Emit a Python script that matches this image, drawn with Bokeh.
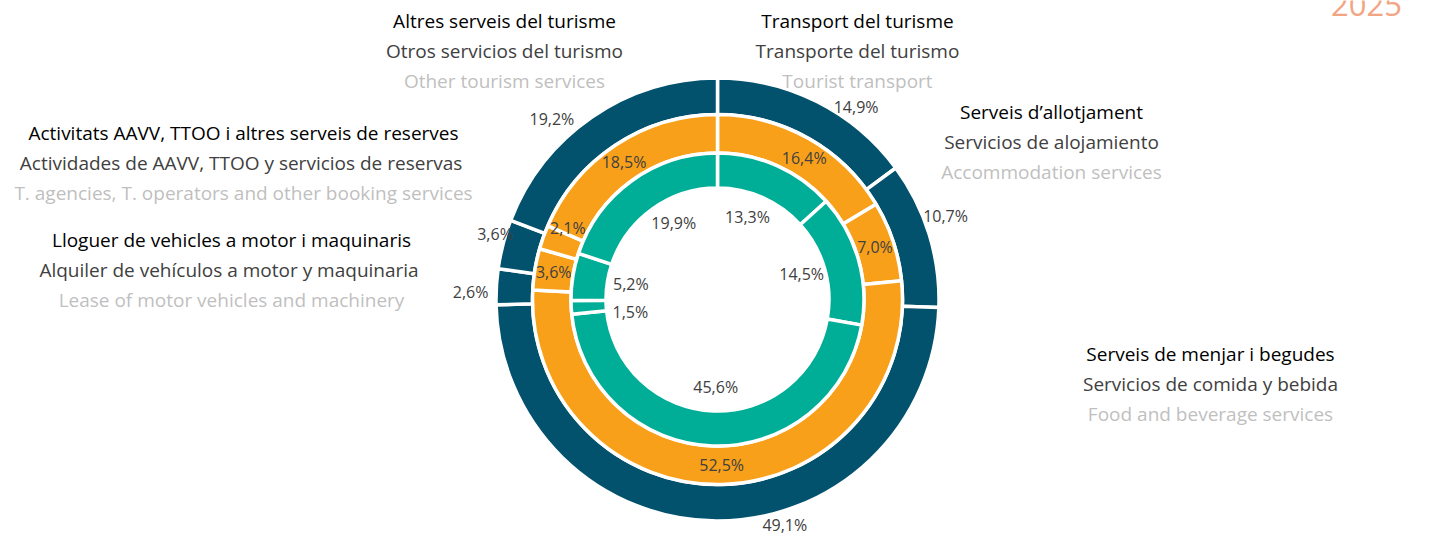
import numpy as np
from bokeh.plotting import figure
from bokeh.models import Range1d, ColumnDataSource
from bokeh.core.properties import value
from bokeh.embed import file_html
from bokeh.resources import INLINE

# ---------------- data ----------------
categories = [
    "Transport del turisme",
    "Serveis d\u2019allotjament",
    "Serveis de menjar i begudes",
    "Lloguer de vehicles a motor i maquinaris",
    "Activitats AAVV, TTOO i altres serveis de reserves",
    "Altres serveis del turisme",
]
categories_es = [
    "Transporte del turismo",
    "Servicios de alojamiento",
    "Servicios de comida y bebida",
    "Alquiler de veh\u00edculos a motor y  maquinaria",
    "Actividades de AAVV, TTOO  y servicios de reservas",
    "Otros servicios del turismo",
]
categories_en = [
    "Tourist transport",
    "Accommodation services",
    "Food and beverage services",
    "Lease of motor vehicles and machinery",
    "T. agencies, T. operators and other booking services",
    "Other tourism services",
]
outer_values = [14.9, 10.7, 49.1, 2.6, 3.6, 19.2]
middle_values = [16.4, 7.0, 52.5, 3.6, 2.1, 18.5]
inner_values = [13.3, 14.5, 45.6, 1.5, 5.2, 19.9]
year_label = "2025"

# ---------------- style / layout ----------------
W, H = 1430, 535
CX, CY = 717, 299          # donut centre in picture pixels
ring_colors = ["#02526E", "#F9A01B", "#00AE97"]
rings = [  # (values, inner r, outer r, label radii, angular nudges in degrees)
    (outer_values, 185.0, 221.5, [237, 243, 235, 247, 232, 245], [-9, 3, 17, 1.5, -2, 8]),
    (middle_values, 146.5, 185.0, [166] * 6, [-2, 0, 0, 0, -6, 1]),
    (inner_values, 111.5, 146.5, [88] * 6, [4, 1, 1, 5, -1, -6]),
]

# category label blocks: centre x, first line y (picture pixels)
block_pos = [(857, 20), (1051, 111), (1210, 353), (231, 239), (243, 132), (504, 20)]
line_gap = 30

FONT = "Open Sans"

p = figure(width=W, height=H, output_backend="svg", toolbar_location=None,
           x_range=Range1d(-CX, W - CX), y_range=Range1d(CY - H, CY),
           min_border=0, match_aspect=False)
p.axis.visible = False
p.grid.visible = False
p.outline_line_color = None
p.background_fill_color = "white"
p.border_fill_color = "white"


def fmt(v):
    return f"{v:.1f}".replace(".", ",") + "%"


for ri, (vals, r_in, r_out, r_lab, nudge) in enumerate(rings):
    vals = np.array(vals, dtype=float)
    frac = vals / vals.sum()
    cum = np.concatenate([[0], np.cumsum(frac)])
    start = np.deg2rad(90 - cum[:-1] * 360)
    end = np.deg2rad(90 - cum[1:] * 360)
    src = ColumnDataSource(dict(start=start, end=end))
    p.annular_wedge(x=0, y=0, inner_radius=r_in, outer_radius=r_out,
                    start_angle="start", end_angle="end", direction="clock",
                    source=src, fill_color=ring_colors[ri],
                    line_color="white", line_width=3.5)
    mid = 90 - (cum[:-1] + cum[1:]) / 2 * 360 + np.array(nudge)
    r_lab = np.array(r_lab, dtype=float)
    lx = r_lab * np.cos(np.deg2rad(mid))
    ly = r_lab * np.sin(np.deg2rad(mid))
    p.text(x=lx, y=ly, text=[fmt(v) for v in vals], text_align="center",
           text_baseline="middle", text_font=value(FONT), text_font_size="16px",
           text_color="#404040")

# category text blocks
for i in range(len(categories)):
    bx, by = block_pos[i]
    xs = [bx - CX] * 3
    ys = [CY - by, CY - by - line_gap, CY - by - 2 * line_gap]
    texts = [categories[i], categories_es[i], categories_en[i]]
    colors = ["#000000", "#404040", "#BFBFBF"]
    p.text(x=xs, y=ys, text=texts, text_align="center", text_baseline="middle",
           text_font=value(FONT), text_font_size="19px", text_color=colors)

p.text(x=[1366 - CX], y=[CY - 4], text=[year_label], text_align="center",
       text_baseline="middle", text_font=value(FONT), text_font_size="31px",
       text_color="#F2A583")

open("out.html", "w").write(file_html(p, INLINE))
